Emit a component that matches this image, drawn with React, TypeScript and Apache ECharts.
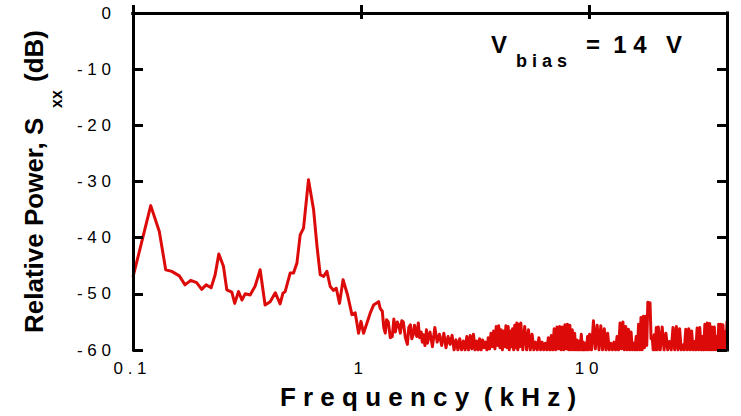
import { useEffect, useRef } from 'react';
import * as echarts from 'echarts';

const FONT = '"Liberation Sans", Arial, Helvetica, sans-serif';
const LINE_COLOR = '#dd0a0a';
const SP = '\u00a0';

// Frequency (kHz) and relative power (dB), low band 0.1 – 2 kHz
const freqLow = [
  0.1, 0.1196, 0.1304, 0.1391, 0.1478, 0.1596, 0.169, 0.179, 0.19, 0.2,
  0.209, 0.22, 0.229, 0.2376, 0.249, 0.2576, 0.271, 0.279, 0.29, 0.3,
  0.31, 0.326, 0.343, 0.3606, 0.379, 0.399, 0.42, 0.441, 0.4536, 0.464,
  0.488, 0.505, 0.5226, 0.54, 0.5585, 0.587, 0.618, 0.64, 0.661, 0.684,
  0.707, 0.731, 0.756, 0.777, 0.803, 0.832, 0.871, 0.91, 0.941, 0.973,
  0.997, 1.023, 1.059, 1.095, 1.132, 1.191, 1.21, 1.236, 1.255, 1.274,
  1.29, 1.313, 1.34, 1.367, 1.389, 1.41, 1.438, 1.46, 1.483, 1.505,
  1.528, 1.56, 1.592, 1.615, 1.641, 1.665, 1.69, 1.71, 1.726, 1.75,
  1.778, 1.8, 1.83, 1.85, 1.871, 1.9, 1.93, 1.95, 1.967,
];
const powerLow = [
  -47.0, -34.3, -38.9, -45.7, -46.0, -46.8, -48.4, -47.6, -48.0, -49.2,
  -48.4, -48.9, -46.6, -42.9, -45.1, -49.3, -49.7, -51.7, -49.6, -51.1,
  -50.0, -50.2, -48.6, -45.7, -52.0, -51.4, -49.8, -51.8, -49.9, -49.6,
  -46.3, -46.3, -44.5, -39.5, -38.3, -29.7, -35.0, -41.6, -46.6, -46.9,
  -46.0, -48.7, -49.4, -49.0, -51.7, -47.5, -50.2, -53.7, -53.4, -57.0,
  -54.9, -57.0, -55.2, -53.4, -52.0, -51.4, -52.6, -53.1, -56.0, -57.0,
  -54.6, -55.0, -57.8, -57.6, -54.5, -56.8, -55.0, -55.6, -57.0, -54.8,
  -55.0, -57.8, -59.0, -56.0, -55.5, -58.0, -57.2, -55.6, -56.4, -57.6,
  -55.2, -57.8, -56.8, -58.6, -57.3, -59.2, -56.4, -58.8, -58.0,
];

// [kHz, dB] 2 – 5 kHz
const bandMid: [number, number][] = [
  [2.0, -56.8], [2.05, -59.4], [2.1, -56.0], [2.15, -58.6], [2.2, -57.2], [2.25, -59.2],
  [2.3, -57.0], [2.35, -59.6], [2.4, -57.6], [2.45, -59.0], [2.5, -57.4], [2.55, -60.0],
  [2.6, -58.2], [2.65, -60.0], [2.7, -58.0], [2.75, -60.0], [2.8, -58.4], [2.85, -60.0],
  [2.9, -57.6], [2.95, -60.0], [3.0, -57.4], [3.05, -59.8], [3.1, -57.2], [3.15, -60.0],
  [3.2, -58.4], [3.25, -60.0], [3.3, -58.0], [3.35, -60.0], [3.4, -58.2], [3.45, -59.6],
  [3.5, -58.6], [3.55, -60.0], [3.6, -57.8], [3.65, -59.8], [3.7, -57.0], [3.75, -59.4],
  [3.8, -56.6], [3.85, -59.8], [3.9, -55.8], [3.95, -59.2], [4.0, -55.7], [4.05, -59.6],
  [4.1, -56.4], [4.15, -60.0], [4.2, -56.6], [4.25, -59.4], [4.3, -55.7], [4.35, -59.6],
  [4.4, -55.8], [4.45, -60.0], [4.5, -56.6], [4.55, -59.4], [4.6, -56.2], [4.65, -60.0],
  [4.7, -55.6], [4.75, -59.6], [4.8, -55.2], [4.85, -60.0], [4.9, -55.4], [4.95, -59.4],
  [5.0, -55.2],
];

// [kHz, dB] 5 – 10 kHz
const bandA: [number, number][] = [
  [5.1, -60.0], [5.2, -55.8], [5.3, -60.0], [5.4, -56.4], [5.5, -60.0], [5.6, -57.2],
  [5.7, -60.0], [5.8, -58.6], [5.9, -60.0], [6.0, -57.8], [6.1, -60.0], [6.2, -58.6],
  [6.3, -60.0], [6.4, -58.8], [6.5, -60.0], [6.6, -57.8], [6.7, -60.0], [6.8, -57.4],
  [6.9, -60.0], [7.0, -56.2], [7.1, -60.0], [7.2, -55.9], [7.3, -59.8], [7.4, -55.8],
  [7.5, -60.0], [7.6, -55.9], [7.7, -60.0], [7.8, -55.5], [7.9, -59.8], [8.0, -55.4],
  [8.1, -60.0], [8.2, -55.6], [8.3, -60.0], [8.4, -56.4], [8.5, -60.0], [8.6, -57.0],
  [8.7, -60.0], [8.8, -58.2], [8.9, -60.0], [9.0, -58.4], [9.1, -60.0], [9.2, -57.2],
  [9.3, -60.0], [9.4, -58.6], [9.5, -60.0], [9.6, -58.8], [9.7, -60.0], [9.8, -57.6],
  [9.9, -60.0], [10.0, -57.2],
];

// [kHz, dB] 10 – 20 kHz
const bandB: [number, number][] = [
  [10.2, -60.0], [10.4, -54.8], [10.6, -59.8], [10.8, -55.6], [11.0, -60.0], [11.2, -55.7],
  [11.4, -60.0], [11.6, -56.2], [11.8, -60.0], [12.0, -57.0], [12.2, -60.0], [12.4, -58.8],
  [12.6, -60.0], [12.8, -58.6], [13.0, -60.0], [13.2, -57.6], [13.4, -60.0], [13.6, -55.2],
  [13.8, -59.8], [14.0, -55.0], [14.2, -60.0], [14.4, -55.8], [14.6, -60.0], [14.8, -56.3],
  [15.0, -60.0], [15.2, -56.8], [15.4, -60.0], [15.6, -58.8], [15.8, -60.0], [16.0, -57.6],
  [16.2, -60.0], [16.4, -55.4], [16.6, -60.0], [16.8, -54.2], [17.0, -60.0], [17.2, -54.0],
  [17.4, -59.6], [17.6, -54.0], [17.8, -59.2], [18.0, -51.5], [18.2, -53.5], [18.4, -51.6],
  [18.6, -58.0], [18.8, -57.6], [19.0, -60.0], [19.2, -57.3], [19.4, -60.0], [19.6, -56.0],
  [19.8, -60.0], [20.0, -55.9],
];

// [kHz, dB] 20 – 40 kHz
const bandC: [number, number][] = [
  [20.4, -60.0], [20.8, -55.9], [21.2, -60.0], [21.6, -57.0], [22.0, -60.0], [22.4, -58.5],
  [22.8, -60.0], [23.2, -56.0], [23.6, -60.0], [24.0, -55.8], [24.4, -60.0], [24.8, -56.2],
  [25.2, -60.0], [25.6, -59.1], [26.0, -60.0], [26.4, -56.3], [26.8, -60.0], [27.2, -56.2],
  [27.6, -60.0], [28.0, -56.6], [28.4, -60.0], [28.8, -58.5], [29.2, -60.0], [29.6, -56.1],
  [30.0, -60.0], [30.4, -56.0], [30.8, -60.0], [31.2, -57.6], [31.6, -60.0], [32.0, -55.4],
  [32.4, -60.0], [32.8, -55.2], [33.2, -60.0], [33.6, -55.3], [34.0, -60.0], [34.4, -55.9],
  [34.8, -60.0], [35.2, -55.9], [35.6, -60.0], [36.0, -57.6], [36.4, -60.0], [36.8, -55.4],
  [37.2, -60.0], [37.6, -55.4], [38.0, -60.0], [38.4, -55.5], [38.8, -60.0], [39.2, -56.7],
  [39.6, -60.0], [40.0, -54.8],
];

const xMin = 0.1;
const xMax = 40;
const yMin = -60;
const yMax = 0;
const yStep = 10;

const spaced = (s: string) => s.split('').join(SP);

export default function App() {
  const ref = useRef<HTMLDivElement>(null);

  useEffect(() => {
    if (!ref.current) return;
    const chart = echarts.init(ref.current, null, { renderer: 'svg' });

    const lowPairs: [number, number][] = freqLow.map((f, i) => [f, powerLow[i]]);
    const data = [...lowPairs, ...bandMid, ...bandA, ...bandB, ...bandC];

    const axisLine = { show: true, lineStyle: { color: '#000', width: 3, cap: 'square' } };
    const labelBase = { fontSize: 17, fontFamily: FONT, color: '#000' };
    const tick = (length: number) => ({
      show: true,
      inside: true,
      length,
      lineStyle: { color: '#000', width: 3 },
    });

    const xFormatter = (v: number) => {
      const l = Math.log10(v);
      if (Math.abs(l - Math.round(l)) > 1e-6) return '';
      const p = Math.round(l);
      const s = p < 0 ? '0.1' : String(Math.pow(10, p));
      return spaced(s);
    };

    const textStyle = (text: string, font: string, align: string, vAlign: string) => ({
      text,
      font,
      fill: '#000',
      align,
      textAlign: align,
      verticalAlign: vAlign,
      textVerticalAlign: vAlign,
    });

    chart.setOption({
      animation: false,
      backgroundColor: '#fff',
      grid: { left: 133, top: 13, right: 14, bottom: 66, containLabel: false },
      xAxis: [
        {
          type: 'log',
          logBase: 10,
          min: xMin,
          max: xMax,
          position: 'bottom',
          z: 5,
          axisLine,
          axisTick: tick(8),
          minorTick: { show: false },
          splitLine: { show: false },
          axisLabel: {
            ...labelBase,
            margin: 10,
            padding: [0, 6, 0, 0],
            formatter: xFormatter,
            showMaxLabel: false,
          },
        },
        {
          type: 'log',
          logBase: 10,
          min: xMin,
          max: xMax,
          position: 'top',
          z: 5,
          axisLine,
          axisTick: tick(6),
          minorTick: { show: false },
          splitLine: { show: false },
          axisLabel: { show: false },
        },
      ],
      yAxis: [
        {
          type: 'value',
          min: yMin,
          max: yMax,
          interval: yStep,
          position: 'left',
          z: 5,
          axisLine,
          axisTick: tick(10),
          splitLine: { show: false },
          axisLabel: {
            ...labelBase,
            margin: 22,
            formatter: (v: number) => spaced(String(v)),
          },
        },
        {
          type: 'value',
          min: yMin,
          max: yMax,
          interval: yStep,
          position: 'right',
          z: 5,
          axisLine,
          axisTick: tick(10),
          splitLine: { show: false },
          axisLabel: { show: false },
        },
      ],
      series: [
        {
          type: 'line',
          xAxisIndex: 0,
          yAxisIndex: 0,
          data,
          showSymbol: false,
          symbol: 'none',
          clip: true,
          lineStyle: { color: LINE_COLOR, width: 3, join: 'round' },
          z: 2,
        },
      ],
      graphic: [
        {
          type: 'group',
          x: 34,
          y: 333,
          rotation: Math.PI / 2,
          children: [
            { type: 'text', x: 0, y: 0, style: textStyle('Relative Power, S', `bold 26px ${FONT}`, 'left', 'middle') },
            { type: 'text', x: 225, y: 22, style: textStyle('xx', `bold 16px ${FONT}`, 'left', 'middle') },
            { type: 'text', x: 251, y: 0, style: textStyle('(dB)', `bold 26px ${FONT}`, 'left', 'middle') },
          ],
        },
        {
          type: 'text',
          x: 428,
          y: 397,
          style: textStyle(
            `F${SP}r${SP}e${SP}q${SP}u${SP}e${SP}n${SP}c${SP}y${SP}${SP}(${SP}k${SP}H${SP}z${SP})`,
            `bold 26px ${FONT}`,
            'center',
            'middle'
          ),
        },
        { type: 'text', x: 491, y: 44, style: textStyle('V', `bold 24px ${FONT}`, 'left', 'middle') },
        { type: 'text', x: 516, y: 61, style: textStyle(`b${SP}i${SP}a${SP}s`, `bold 18px ${FONT}`, 'left', 'middle') },
        { type: 'text', x: 586, y: 44, style: textStyle(`=${SP}${SP}1${SP}4`, `bold 24px ${FONT}`, 'left', 'middle') },
        { type: 'text', x: 666, y: 44, style: textStyle('V', `bold 24px ${FONT}`, 'left', 'middle') },
      ],
    });

    return () => chart.dispose();
  }, []);

  return (
    <div
      ref={ref}
      style={{ position: 'fixed', left: 0, top: 0, width: 741, height: 416, background: '#fff' }}
    />
  );
}
